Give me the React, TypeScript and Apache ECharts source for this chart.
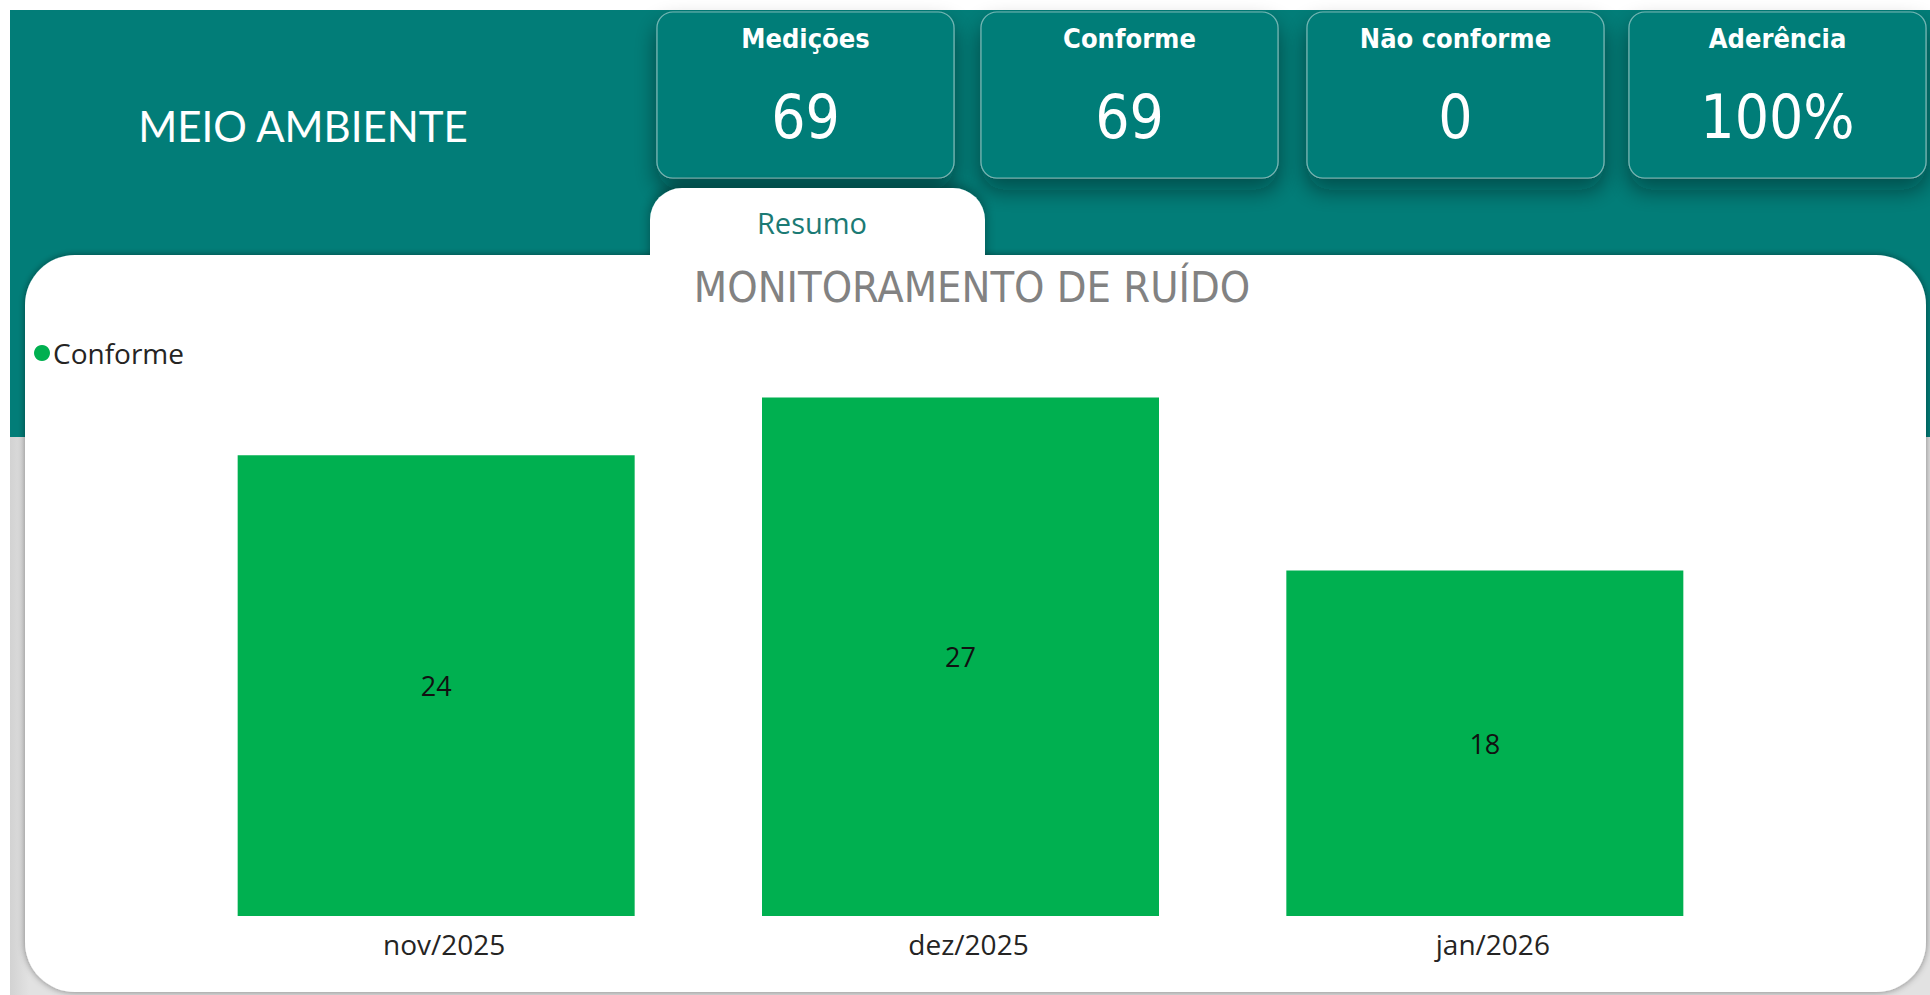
import React, { useEffect, useRef } from "react";
import * as echarts from "echarts";

const categories = ["nov/2025", "dez/2025", "jan/2026"];
const conformeValues = [24, 27, 18];
const kpiTitles = ["Medições", "Conforme", "Não conforme", "Aderência"];
const kpiValues = ["69", "69", "0", "100%"];
const seriesName = "Conforme";
const pageTitle = "MEIO AMBIENTE";
const chartTitle = "MONITORAMENTO DE RUÍDO";
const tabLabel = "Resumo";

const TEAL = "#027d78";
const GREEN = "#00b050";
const DIN = "'DejaVu Sans Condensed', 'Liberation Sans Narrow', 'Roboto', sans-serif";
const SEGOE = "'Open Sans', 'Noto Sans', sans-serif";

export default function App() {
  const ref = useRef<HTMLDivElement>(null);

  useEffect(() => {
    if (!ref.current) return;
    const chart = echarts.init(ref.current, null, { renderer: "svg" });

    const cardX = [657, 981, 1307, 1629];
    const kpiGraphics: any[] = [];
    kpiTitles.forEach((t, i) => {
      kpiGraphics.push({
        type: "rect",
        z: 1,
        shape: { x: cardX[i], y: 12, width: 297, height: 166, r: 16 },
        style: {
          fill: TEAL,
          stroke: "rgba(255,255,255,0.45)",
          lineWidth: 1.2,
          shadowBlur: 22,
          shadowOffsetY: 12,
          shadowColor: "rgba(0,30,30,0.45)",
        },
      });
      kpiGraphics.push({
        type: "text",
        z: 2,
        x: cardX[i] + 148.5,
        y: 38,
        style: {
          text: t,
          fill: "#ffffff",
          font: `bold 27px ${DIN}`,
          align: "center",
          verticalAlign: "middle",
        },
      });
      kpiGraphics.push({
        type: "text",
        z: 2,
        x: cardX[i] + 148.5,
        y: 117,
        style: {
          text: kpiValues[i],
          fill: "#ffffff",
          font: `normal 60px ${DIN}`,
          align: "center",
          verticalAlign: "middle",
        },
      });
    });

    const option: any = {
      animation: false,
      backgroundColor: "#ffffff",
      graphic: [
        { type: "rect", z: 0, shape: { x: 10, y: 10, width: 1920, height: 427 }, style: { fill: TEAL } },
        {
          type: "rect",
          z: 0,
          shape: { x: 10, y: 437, width: 1920, height: 558 },
          style: {
            fill: new echarts.graphic.LinearGradient(0, 0, 1, 0, [
              { offset: 0, color: "#d2d2d2" },
              { offset: 0.01, color: "#e2e2e2" },
              { offset: 1, color: "#e2e2e2" },
            ]),
          },
        },
        ...kpiGraphics,
        {
          type: "text",
          z: 2,
          x: 303,
          y: 126,
          style: {
            text: pageTitle,
            fill: "#ffffff",
            font: `normal 42px 'Lato', ${SEGOE}`,
            align: "center",
            verticalAlign: "middle",
          },
        },
        {
          type: "rect",
          z: 3,
          shape: { x: 650, y: 188, width: 335, height: 80, r: [32, 32, 0, 0] },
          style: { fill: "#ffffff", shadowBlur: 12, shadowOffsetY: -3, shadowColor: "rgba(0,0,0,0.35)" },
        },
        {
          type: "rect",
          z: 4,
          shape: { x: 25, y: 255, width: 1901, height: 737, r: 50 },
          style: { fill: "#ffffff", shadowBlur: 7, shadowColor: "rgba(0,0,0,0.45)" },
        },
        {
          type: "rect",
          z: 5,
          shape: { x: 650, y: 230, width: 335, height: 50 },
          style: { fill: "#ffffff" },
        },
        {
          type: "text",
          z: 6,
          x: 812,
          y: 222,
          style: {
            text: tabLabel,
            fill: "#1b7a74",
            font: `normal 29px ${SEGOE}`,
            align: "center",
            verticalAlign: "middle",
          },
        },
        {
          type: "text",
          z: 6,
          x: 972,
          y: 287,
          style: {
            text: chartTitle,
            fill: "#828282",
            font: `normal 43px ${DIN}`,
            align: "center",
            verticalAlign: "middle",
          },
        },
      ],
      legend: {
        show: true,
        left: 29,
        top: 334,
        icon: "circle",
        itemWidth: 16,
        itemHeight: 16,
        itemGap: 4,
        z: 10,
        textStyle: { fontSize: 28, color: "#252423", fontFamily: SEGOE, padding: [0, 0, 0, -2] },
        data: [seriesName],
      },
      grid: { left: 174, top: 340, width: 1573, bottom: 995 - 916 },
      xAxis: {
        type: "category",
        data: categories,
        z: 10,
        axisLine: { show: false },
        axisTick: { show: false },
        axisLabel: {
          fontSize: 28,
          color: "#252423",
          fontFamily: SEGOE,
          margin: 14,
          padding: [0, 0, 0, 16],
        },
      },
      yAxis: {
        type: "value",
        min: 0,
        max: 30,
        show: false,
        splitLine: { show: false },
      },
      series: [
        {
          name: seriesName,
          type: "bar",
          z: 10,
          data: conformeValues,
          barWidth: 397,
          itemStyle: { color: GREEN },
          label: {
            show: true,
            position: "inside",
            fontSize: 27,
            color: "#111111",
            fontFamily: SEGOE,
          },
        },
      ],
    };
    chart.setOption(option);
    return () => chart.dispose();
  }, []);

  return (
    <div
      ref={ref}
      style={{ position: "fixed", left: 0, top: 0, width: 1930, height: 995 }}
    />
  );
}
